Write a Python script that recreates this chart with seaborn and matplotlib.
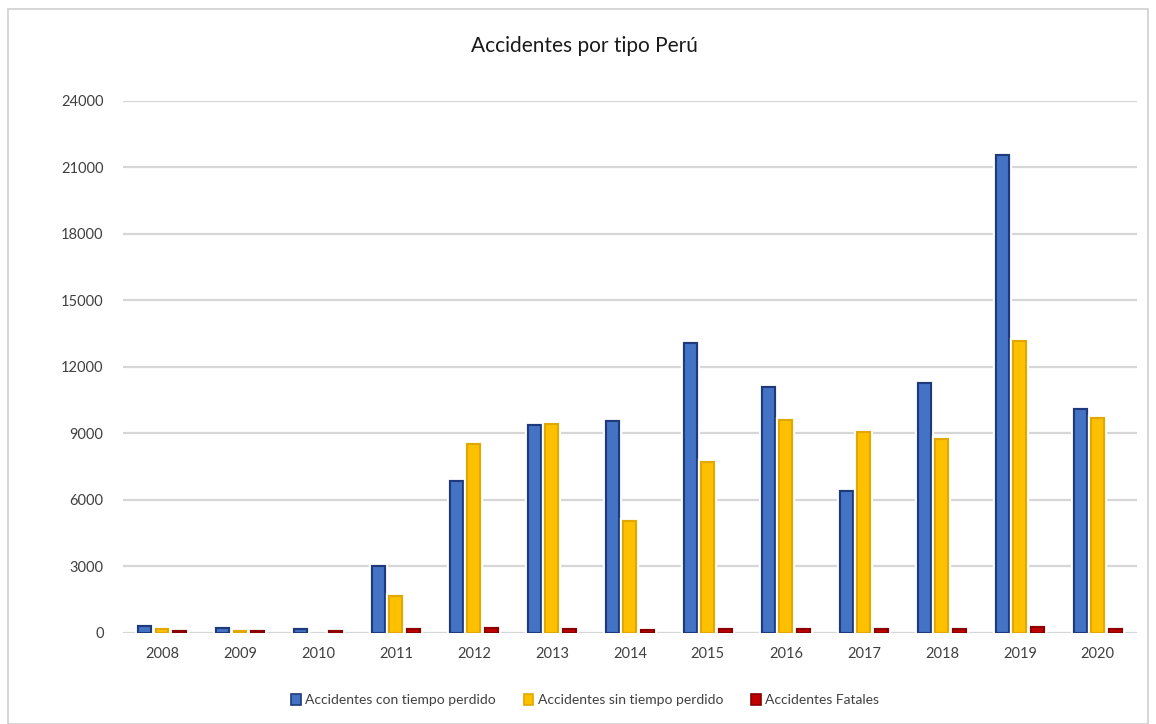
import matplotlib
matplotlib.use("Agg")
import matplotlib.pyplot as plt
import matplotlib.patheffects as pe
from matplotlib.patches import Rectangle, Patch
import pandas as pd
import seaborn as sns

years = ["2008", "2009", "2010", "2011", "2012", "2013", "2014",
         "2015", "2016", "2017", "2018", "2019", "2020"]
con_tiempo_perdido = [310, 225, 165, 3030, 6870, 9400, 9580,
                      13100, 11090, 6420, 11290, 21560, 10120]
sin_tiempo_perdido = [160, 100, 0, 1680, 8540, 9450, 5040,
                      7700, 9630, 9090, 8750, 13180, 9680]
fatales = [95, 95, 95, 190, 210, 180, 130,
           180, 180, 180, 180, 250, 180]

series_names = ["Accidentes con tiempo perdido",
                "Accidentes sin tiempo perdido",
                "Accidentes Fatales"]
y_ticks = [0, 3000, 6000, 9000, 12000, 15000, 18000, 21000, 24000]

fills = ["#4472C4", "#FFC000", "#C00000"]
edges = ["#1F3A7A", "#E0A800", "#8B0000"]

df = pd.DataFrame({
    "year": years * 3,
    "value": con_tiempo_perdido + sin_tiempo_perdido + fatales,
    "serie": [series_names[0]] * len(years)
             + [series_names[1]] * len(years)
             + [series_names[2]] * len(years),
})

sns.set_theme(style="white")
plt.rcParams["font.family"] = ["Lato", "DejaVu Sans"]

fig = plt.figure(figsize=(11.56, 7.24), dpi=100)
fig.patch.set_facecolor("white")
ax = fig.add_axes([0.1064, 0.1257, 0.877, 0.7348])

sns.barplot(data=df, x="year", y="value", hue="serie", order=years,
            hue_order=series_names, palette=fills, saturation=1,
            width=0.68, gap=0.27, linewidth=1.5, legend=False, ax=ax,
            zorder=3)

for cont, ec in zip(ax.containers, edges):
    for bar in cont:
        bar.set_edgecolor(ec)
        bar.set_path_effects([pe.withStroke(linewidth=4.5, foreground="white"),
                              pe.Normal()])
        if bar.get_height() == 0:
            bar.set_visible(False)

ax.set_ylim(0, 24000)
ax.set_xlim(-0.5, len(years) - 0.5)
ax.set_yticks(y_ticks)
ax.set_yticklabels([str(v) for v in y_ticks])
ax.yaxis.grid(True, color="#D6D6D6", linewidth=1.6, zorder=0)
ax.set_axisbelow(True)
for s in ax.spines.values():
    s.set_visible(False)
ax.tick_params(axis="both", length=0, labelsize=10.5, labelcolor="#404040")
ax.tick_params(axis="y", pad=14)
ax.tick_params(axis="x", pad=10)
ax.set_xlabel("")
ax.set_ylabel("")

fig.text(0.506, 0.937, "Accidentes por tipo Perú", ha="center", va="center",
         fontsize=15, color="#1a1a1a")

handles = [Patch(facecolor=f, edgecolor=e, linewidth=1.2)
           for f, e in zip(fills, edges)]
fig.legend(handles, series_names, loc="center", bbox_to_anchor=(0.506, 0.033),
           ncol=3, frameon=False, fontsize=10, handlelength=0.7,
           handleheight=0.9, handletextpad=0.3, columnspacing=2.0,
           labelcolor="#404040")

fig.patches.append(Rectangle((8 / 1156, 0), 1140 / 1156, 1 - 9 / 724,
                             transform=fig.transFigure, fill=False,
                             edgecolor="#CFCFCF", linewidth=1.2))

fig.savefig("out.png", dpi=100, facecolor="white")
